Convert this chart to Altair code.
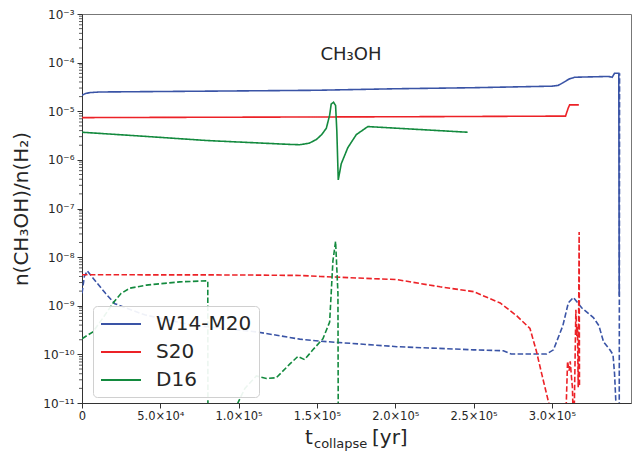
import altair as alt
import pandas as pd

# ---------------- data ----------------
series_names = ["W14-M20", "S20", "D16"]
series_colors = ["#3a54a6", "#ec2227", "#138a3e"]

w_solid_t = [0, 2000, 5000, 11500, 60000, 100000, 150000, 200000, 250000, 300000,
             304000, 307000, 311000, 314500, 336000, 338500, 340000, 342700, 343000]
w_solid_v = [2.13e-5, 2.3e-5, 2.42e-5, 2.49e-5, 2.56e-5, 2.62e-5, 2.7e-5, 2.9e-5, 3.05e-5, 3.28e-5,
             3.4e-5, 3.85e-5, 4.6e-5, 5.0e-5, 5.2e-5, 5.0e-5, 6.05e-5, 6.05e-5, 1.6e-9]

w_dash_t = [0, 1500, 3400, 8000, 15000, 21000, 40000, 70000, 111500, 139000, 152000, 201000,
            250000, 269000, 274000, 296700, 301000, 307000, 310500, 313700, 319000, 326500,
            330000, 333000, 337000, 339000, 340000, 341000, 343000, 343200]
w_dash_v = [1.8e-9, 4.0e-9, 5.2e-9, 3.4e-9, 1.8e-9, 1.1e-9, 6.5e-10, 4.0e-10, 2.9e-10, 2.06e-10,
            1.87e-10, 1.44e-10, 1.24e-10, 1.19e-10, 1.02e-10, 1.02e-10, 1.24e-10, 3.9e-10,
            1.15e-9, 1.48e-9, 9.1e-10, 5.7e-10, 3.9e-10, 1.8e-10, 1.24e-10, 9.9e-11, 4e-11,
            8e-12, 8e-12, 6.05e-5]

s_solid_t = [0, 100000, 200000, 308700, 310400, 311300, 317200]
s_solid_v = [7.4e-6, 7.55e-6, 7.7e-6, 7.95e-6, 1.16e-5, 1.35e-5, 1.35e-5]

s_dash_t = [0, 50000, 100000, 139000, 152000, 201000, 228600, 250000, 267000, 277600, 286000,
            290000, 294000, 298000, 300000, 308900, 310000, 311000, 311700, 312500, 313100,
            313600, 314200, 315300, 315900, 316300, 316800, 317400, 317600]
s_dash_v = [4.34e-9, 4.32e-9, 4.3e-9, 4.2e-9, 4.0e-9, 3.45e-9, 2.45e-9, 1.95e-9, 1.14e-9,
            6.2e-10, 3.4e-10, 1.2e-10, 3.4e-11, 1e-11, 5e-12, 5e-12, 7.2e-11, 4.6e-11,
            7.2e-11, 3.4e-11, 2.1e-11, 5e-12, 5e-12, 8.3e-10, 2.4e-10, 3.9e-10, 2.1e-11,
            3.3e-8, 2.1e-11]

d_solid_t = [0, 40000, 79700, 110000, 132600, 139000, 145000, 149600, 153000, 156000, 158100,
             159100, 160600, 161900, 162700, 163600, 165500, 169700, 175100, 182500, 246200]
d_solid_v = [3.7e-6, 3.05e-6, 2.5e-6, 2.25e-6, 2.08e-6, 2.05e-6, 2.2e-6, 2.62e-6, 3.3e-6,
             4.48e-6, 8.3e-6, 1.41e-5, 1.53e-5, 1.31e-5, 3.85e-6, 3.86e-7, 8.3e-7, 1.78e-6,
             3.3e-6, 4.84e-6, 3.7e-6]

d_dash_t = [0, 7000, 14000, 20000, 25000, 30600, 41200, 62500, 79500, 80300, 80400, 95000,
            104000, 111300, 117700, 124000, 132600, 137900, 142100, 147400, 153800, 158100,
            160200, 161900, 163400, 163600]
d_dash_v = [2.1e-10, 2.9e-10, 6e-10, 1.15e-9, 1.8e-9, 2.3e-9, 2.66e-9, 3.1e-9, 3.25e-9,
            3.25e-9, 5e-12, 5e-12, 2e-11, 3.6e-11, 3.2e-11, 3.3e-11, 6.3e-11, 9.1e-11,
            7.8e-11, 1.24e-10, 2.1e-10, 4.6e-10, 8.4e-9, 2.1e-8, 1.8e-9, 5e-12]

x_ticks = [0, 50000, 100000, 150000, 200000, 250000, 300000]
x_tick_labels = ["0", "5.0×10⁴", "1.0×10⁵", "1.5×10⁵", "2.0×10⁵", "2.5×10⁵", "3.0×10⁵"]
y_ticks = [1e-11, 1e-10, 1e-9, 1e-8, 1e-7, 1e-6, 1e-5, 1e-4, 1e-3]
y_tick_labels = ["10⁻¹¹", "10⁻¹⁰", "10⁻⁹", "10⁻⁸", "10⁻⁷", "10⁻⁶", "10⁻⁵", "10⁻⁴", "10⁻³"]
minor_ticks = [m * 10.0 ** k for k in range(-11, -3) for m in range(2, 10)]

annotation = "CH₃OH"
y_title = "n(CH₃OH)/n(H₂)"

# ---------------- build table ----------------
rows = []
def add(name, style, ts, vs):
    for i, (t, v) in enumerate(zip(ts, vs)):
        rows.append(dict(t=t, v=v, series=name, style=style, key=f"{name}-{style}", i=i))

add("W14-M20", "solid", w_solid_t, w_solid_v)
add("S20", "solid", s_solid_t, s_solid_v)
add("D16", "solid", d_solid_t, d_solid_v)
add("W14-M20", "dashed", w_dash_t, w_dash_v)
add("S20", "dashed", s_dash_t, s_dash_v)
add("D16", "dashed", d_dash_t, d_dash_v)
df = pd.DataFrame(rows)

FONT = "DejaVu Sans"
TXT = "#262626"

xscale = alt.Scale(domain=[0, 350500], nice=False, zero=False)
yscale = alt.Scale(type="log", domain=[1e-11, 1e-3], nice=False)

x_label_expr = "[" + ",".join(f"'{s}'" for s in x_tick_labels) + "][indexof([" + \
    ",".join(str(int(v)) for v in x_ticks) + "], datum.value)]"
y_label_expr = "[" + ",".join(f"'{s}'" for s in y_tick_labels) + "][round(log(datum.value)/LN10)+11]"

y_axis = alt.Axis(values=y_ticks, labelExpr=y_label_expr, title=y_title, grid=False,
                  tickSize=5, tickColor="#333", domainColor="#333",
                  labelFontSize=12, labelColor=TXT, labelPadding=3, labelFont=FONT,
                  titleFontSize=20, titleFontWeight="normal", titleColor=TXT,
                  titleFont=FONT, titlePadding=11)

lines = alt.Chart(df).mark_line(clip=True, strokeWidth=1.6).encode(
    x=alt.X("t:Q", scale=xscale,
            axis=alt.Axis(values=x_ticks, labelExpr=x_label_expr, title=None, grid=False,
                          tickSize=5, tickColor="#333", domainColor="#333",
                          labelFontSize=11.5, labelColor=TXT, labelPadding=2,
                          labelFont=FONT, labelFlush=False)),
    y=alt.Y("v:Q", scale=yscale, axis=y_axis),
    color=alt.Color("series:N", scale=alt.Scale(domain=series_names, range=series_colors),
                    legend=alt.Legend(title=None, orient="none", legendX=11, legendY=292,
                                      symbolType="M-1,0H3", symbolSize=400,
                                      symbolStrokeWidth=2, labelFontSize=20,
                                      labelFont=FONT, labelColor=TXT, labelOffset=34,
                                      padding=7, rowPadding=7, cornerRadius=4,
                                      fillColor="rgba(255,255,255,0.92)",
                                      strokeColor="#d0d0d0")),
    strokeDash=alt.StrokeDash("style:N",
                              scale=alt.Scale(domain=["solid", "dashed"],
                                              range=[[1, 0], [5.5, 2.4]]),
                              legend=None),
    detail="key:N",
    order="i:Q",
)

minor = alt.Chart(pd.DataFrame({"v": minor_ticks})).mark_rule(color="#333", strokeWidth=0.8).encode(
    y=alt.Y("v:Q", scale=yscale, axis=y_axis),
    x=alt.value(-3),
    x2=alt.value(0),
)

label_df = pd.DataFrame({"txt": [annotation]})
ann = alt.Chart(label_df).mark_text(font=FONT, fontSize=18, color=TXT, align="center",
                                    baseline="middle").encode(
    text="txt:N", x=alt.value(269), y=alt.value(41))

xt1 = alt.Chart(pd.DataFrame({"txt": ["t"]})).mark_text(
    font=FONT, fontSize=20, color=TXT, align="left", baseline="alphabetic").encode(
    text="txt:N", x=alt.value(223), y=alt.value(430))
xt2 = alt.Chart(pd.DataFrame({"txt": ["collapse"]})).mark_text(
    font=FONT, fontSize=13, color=TXT, align="left", baseline="alphabetic").encode(
    text="txt:N", x=alt.value(232), y=alt.value(434))
xt3 = alt.Chart(pd.DataFrame({"txt": ["[yr]"]})).mark_text(
    font=FONT, fontSize=20, color=TXT, align="left", baseline="alphabetic").encode(
    text="txt:N", x=alt.value(290), y=alt.value(430))

chart = alt.layer(lines, minor, ann, xt1, xt2, xt3).properties(
    width=549, height=389,
    autosize=alt.AutoSizeParams(type="none"),
    padding={"left": 74, "top": 6, "right": 1, "bottom": 49},
).configure(font=FONT).configure_view(stroke="#777", strokeWidth=1)

chart.save("out.html", embed_options={"renderer": "svg", "actions": False})
